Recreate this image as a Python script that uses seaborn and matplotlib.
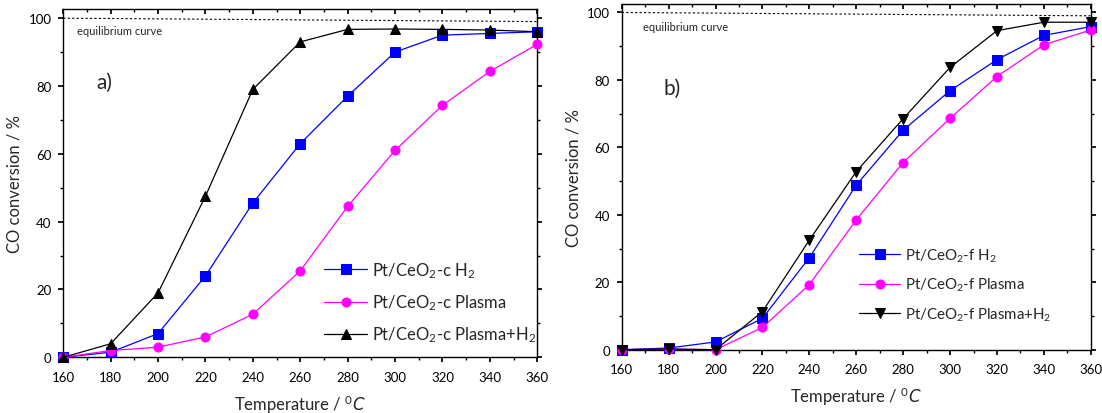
import numpy as np
import pandas as pd
import matplotlib
matplotlib.use('Agg')
import matplotlib.pyplot as plt
import seaborn as sns
from matplotlib.ticker import MultipleLocator

# temperatures (deg C)
temps = [160, 180, 200, 220, 240, 260, 280, 300, 320, 340, 360]

# panel a) Pt/CeO2-c
c_h2 = [0, 1.5, 7, 24, 45.5, 63, 77, 90, 95, 95.5, 96]
c_plasma = [0, 2, 3, 6, 12.7, 25.5, 44.5, 61, 74.3, 84.3, 92.3]
c_plasma_h2 = [0, 4, 19, 47.5, 79, 93, 96.7, 96.8, 96.7, 96.5, 96]

# panel b) Pt/CeO2-f
f_h2 = [0, 0.5, 2.3, 9.3, 27.3, 48.8, 65.1, 76.8, 86, 93.2, 95.8]
f_plasma = [0, 0.2, 0, 6.6, 19.3, 38.5, 55.5, 68.6, 81, 90.4, 94.8]
f_plasma_h2 = [0, 0.2, 0, 11.3, 32.5, 52.8, 68.5, 83.7, 94.6, 97.1, 97.1]

# equilibrium curve
eq_x = [160, 360]
eq_y = [100, 99]

sns.set_theme(style='ticks')
plt.rcParams['font.family'] = ['Lato', 'DejaVu Sans']
plt.rcParams['mathtext.default'] = 'regular'
plt.rcParams['axes.linewidth'] = 1.0

fig = plt.figure(figsize=(11.02, 4.14), dpi=100)
ax1 = fig.add_axes([0.0574, 0.1345, 0.4301, 0.8413])
ax2 = fig.add_axes([0.5642, 0.1529, 0.4256, 0.8350])


def draw_panel(ax, h2, plasma, plasma_h2, tag, third_marker, ytop,
               leg_anchor, leg_size, leg_hl, leg_sp):
    series = [
        (h2, '#0000FF', 's', f'Pt/CeO$_2$-{tag} H$_2$'),
        (plasma, '#FF00FF', 'o', f'Pt/CeO$_2$-{tag} Plasma'),
        (plasma_h2, 'black', third_marker, f'Pt/CeO$_2$-{tag} Plasma+H$_2$'),
    ]
    for vals, color, marker, label in series:
        df = pd.DataFrame({'T': temps, 'conv': vals})
        sns.lineplot(data=df, x='T', y='conv', ax=ax, color=color, marker=marker,
                     markersize=6.5, markeredgecolor=color, linewidth=0.9,
                     label=label, clip_on=False, zorder=3)
    ax.plot(eq_x, eq_y, linestyle=(0, (2, 2)), color='black', linewidth=0.8)
    ax.set_xlim(160, 360)
    ax.set_ylim(0, ytop)
    ax.xaxis.set_major_locator(MultipleLocator(20))
    ax.xaxis.set_minor_locator(MultipleLocator(10))
    ax.yaxis.set_major_locator(MultipleLocator(20))
    ax.yaxis.set_minor_locator(MultipleLocator(10))
    ax.tick_params(which='both', direction='out', top=False, right=True,
                   labelsize=9.5, colors='black')
    ax.tick_params(axis='x', which='major', pad=6)
    ax.tick_params(axis='y', which='major', pad=5)
    ax.tick_params(which='major', length=3.5)
    ax.tick_params(which='minor', length=2.5)
    # inward ticks along the top edge
    top = ax.secondary_xaxis('top')
    top.xaxis.set_major_locator(MultipleLocator(20))
    top.xaxis.set_minor_locator(MultipleLocator(10))
    top.tick_params(which='both', direction='in', labeltop=False, colors='black')
    top.tick_params(which='major', length=3.5)
    top.tick_params(which='minor', length=2.5)
    top.spines['top'].set_visible(False)
    ax.set_xlabel('Temperature / $^{0}\\mathit{C}$', fontsize=12, labelpad=7)
    ax.set_ylabel('CO conversion / %', fontsize=12, labelpad=4)
    for s in ax.spines.values():
        s.set_visible(True)
        s.set_color('black')
    ax.legend(loc='center left', bbox_to_anchor=leg_anchor, frameon=False,
              fontsize=leg_size, handlelength=leg_hl, handletextpad=0.3,
              labelspacing=leg_sp, borderaxespad=0, borderpad=0)


draw_panel(ax1, c_h2, c_plasma, c_plasma_h2, 'c', '^', 102.7,
           (0.55, 0.158), 12, 2.6, 0.75)
draw_panel(ax2, f_h2, f_plasma, f_plasma_h2, 'f', 'v', 102.5,
           (0.506, 0.188), 10.8, 2.75, 0.8)

ax1.text(165.8, 96.3, 'equilibrium curve', fontsize=8, va='center')
ax1.text(173.8, 81.3, 'a)', fontsize=15, va='center')
ax2.text(169.1, 95.7, 'equilibrium curve', fontsize=8, va='center')
ax2.text(177.6, 77.6, 'b)', fontsize=15, va='center')

fig.savefig('out.png', dpi=100)
